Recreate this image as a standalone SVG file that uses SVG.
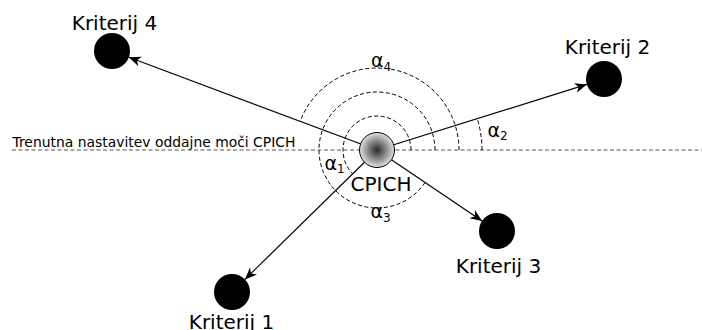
<svg xmlns="http://www.w3.org/2000/svg" width="702" height="330" viewBox="0 0 702 330">
  <defs>
    <radialGradient id="cpichFill" cx="0.5" cy="0.5" r="0.5">
      <stop offset="0" stop-color="#2a2a2a"/>
      <stop offset="1" stop-color="#e0e0e0"/>
    </radialGradient>
    <marker id="arrow" viewBox="-12 -6 14 12" refX="0" refY="0" markerWidth="14" markerHeight="12" markerUnits="userSpaceOnUse" orient="auto">
      <path d="M0,0 L-12,-5 L-8.5,0 L-12,5 Z" fill="#000"/>
    </marker>
  </defs>
  <style>
    .lbl { font-family: "DejaVu Sans", "Liberation Sans", sans-serif; font-size: 20px; fill: #000; }
    .ref { font-family: "DejaVu Sans", "Liberation Sans", sans-serif; font-size: 13.9px; fill: #000; }
    .alpha { font-family: "DejaVu Sans", "Liberation Sans", sans-serif; font-size: 19px; fill: #000; }
    .sub { font-size: 12px; }
    .node { fill: #000; }
    .arc { fill: none; stroke: #000; stroke-width: 1; stroke-dasharray: 4 2.5; }
    .edge { stroke: #000; stroke-width: 1.2; fill: none; marker-end: url(#arrow); }
    .base { stroke: #555; stroke-width: 1; stroke-dasharray: 4 2.5; }
  </style>

  <!-- reference direction -->
  <g id="reference">
    <line class="base" x1="12" y1="150" x2="702" y2="150"/>
    <text class="ref" x="12.5" y="146.5">Trenutna nastavitev oddajne moči CPICH</text>
  </g>

  <!-- angle arcs around the CPICH source -->
  <g id="angles">
    <path class="arc" d="M482,150 A105,105 0 0 0 477.2,118.6"/>
    <path class="arc" d="M459,150 A82,82 0 0 0 300.2,121.3"/>
    <path class="arc" d="M435,150 A58,58 0 1 0 425.1,182.4"/>
    <path class="arc" d="M411,150 A34,34 0 1 0 352.7,173.8"/>
    <text class="alpha" x="371" y="67">α<tspan class="sub" dy="4">4</tspan></text>
    <text class="alpha" x="487.5" y="137">α<tspan class="sub" dy="3">2</tspan></text>
    <text class="alpha" x="324.5" y="170">α<tspan class="sub" dy="3">1</tspan></text>
    <text class="alpha" x="370.5" y="218">α<tspan class="sub" dy="4">3</tspan></text>
  </g>

  <!-- connectors -->
  <g id="connectors">
    <line class="edge" x1="377" y1="150" x2="128.9" y2="57.3"/>
    <line class="edge" x1="377" y1="150" x2="586.8" y2="84.4"/>
    <line class="edge" x1="377" y1="150" x2="482.1" y2="220.9"/>
    <line class="edge" x1="377" y1="150" x2="244.9" y2="279.4"/>
  </g>

  <g id="cpich">
    <circle cx="377" cy="150" r="17.5" fill="url(#cpichFill)" stroke="#000" stroke-width="1"/>
    <text class="lbl" x="381" y="191" text-anchor="middle">CPICH</text>
  </g>

  <g id="kriterij4">
    <circle class="node" cx="112" cy="51" r="18"/>
    <text class="lbl" x="114.5" y="29.5" text-anchor="middle">Kriterij 4</text>
  </g>

  <g id="kriterij2">
    <circle class="node" cx="604" cy="79" r="18"/>
    <text class="lbl" x="607.5" y="53.5" text-anchor="middle">Kriterij 2</text>
  </g>

  <g id="kriterij3">
    <circle class="node" cx="497" cy="231" r="18"/>
    <text class="lbl" x="498.5" y="273" text-anchor="middle">Kriterij 3</text>
  </g>

  <g id="kriterij1">
    <circle class="node" cx="232" cy="292" r="18"/>
    <text class="lbl" x="231.5" y="328.5" text-anchor="middle">Kriterij 1</text>
  </g>
</svg>
